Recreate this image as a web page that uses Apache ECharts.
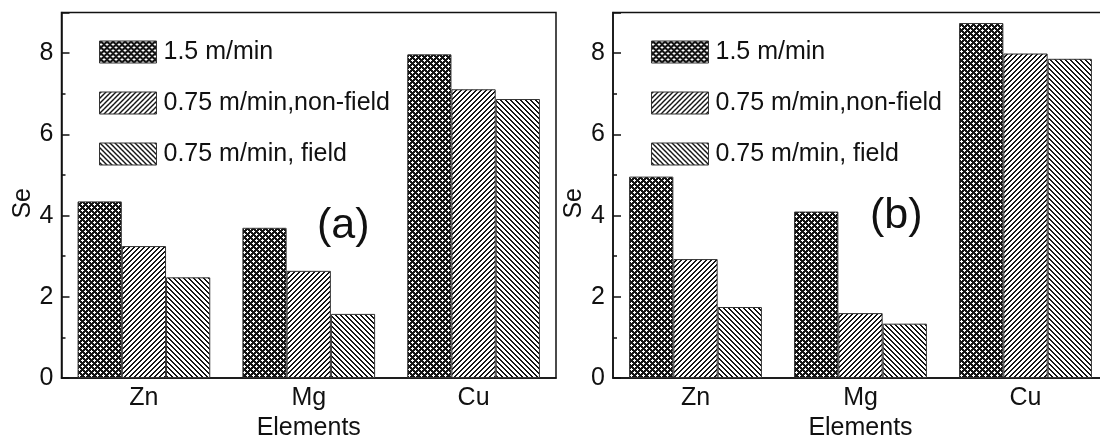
<!DOCTYPE html>
<html>
<head>
<meta charset="utf-8">
<script src="https://cdn.jsdelivr.net/npm/echarts@6.0.0/dist/echarts.min.js"></script>
<style>
  html, body { margin: 0; padding: 0; background: #fff; overflow: hidden; }
  /* a little wider than the window: panel (b) runs off the right edge */
  #main { width: 1112px; height: 446px; }
</style>
</head>
<body>
<div id="main"></div>
<script>
// categories and legend names
var elements = ['Zn', 'Mg', 'Cu'];
var speedNames = ['1.5 m/min', '0.75 m/min,non-field', '0.75 m/min, field'];

// panel (a)
var seA_fast = [4.35, 3.70, 7.97];
var seA_nonField = [3.25, 2.64, 7.11];
var seA_field = [2.48, 1.58, 6.87];

// panel (b)
var seB_fast = [4.96, 4.10, 8.74];
var seB_nonField = [2.93, 1.60, 7.99];
var seB_field = [1.75, 1.34, 7.86];

// y axis
var yMin = 0, yMax = 9, yStep = 2;

var FONT = '"Liberation Sans", Arial, sans-serif';
var INK = '#111';
var FS = 25;

// hatch tiles, drawn pixel by pixel so the lines stay crisp
// test(x, y) -> true for a black pixel
function makeTile(size, test) {
    var c = document.createElement('canvas');
    c.width = size; c.height = size;
    var ctx = c.getContext('2d');
    var img = ctx.createImageData(size, size);
    for (var y = 0; y < size; y++) {
        for (var x = 0; x < size; x++) {
            var v = test(x, y) ? 20 : 255;
            var p = (y * size + x) * 4;
            img.data[p] = v; img.data[p + 1] = v; img.data[p + 2] = v; img.data[p + 3] = 255;
        }
    }
    ctx.putImageData(img, 0, 0);
    return c;
}

var patCross = {
    image: makeTile(6, function (x, y) {
        return (x + y) % 6 < 3 || (x - y + 6) % 6 < 3;
    }),
    repeat: 'repeat'
};
var patUp = { image: makeTile(5, function (x, y) { return (x + y) % 5 < 2; }), repeat: 'repeat' };
var patDown = { image: makeTile(5, function (x, y) { return (x - y + 5) % 5 < 2; }), repeat: 'repeat' };
var patterns = [patCross, patUp, patDown];

var myChart = echarts.init(document.getElementById('main'));

var grids = [
    { left: 61.5, top: 12.5, width: 494.5, height: 367.5 },
    { left: 613, top: 12.5, width: 495, height: 367.5 }
];
grids.forEach(function (g) {
    g.show = true;
    g.borderColor = INK;
    g.borderWidth = 1.5;
    g.backgroundColor = 'transparent';
});

function xAxisFor(i) {
    return {
        type: 'category',
        gridIndex: i,
        data: elements,
        name: 'Elements',
        nameLocation: 'middle',
        nameGap: 35,
        nameTextStyle: { fontFamily: FONT, fontSize: FS, color: INK },
        axisLine: { lineStyle: { color: INK, width: 1.5 } },
        axisTick: { show: false },
        axisLabel: { margin: 8, fontFamily: FONT, fontSize: FS, color: INK },
        splitLine: { show: false }
    };
}

function yAxisFor(i) {
    return {
        type: 'value',
        gridIndex: i,
        min: yMin,
        max: yMax,
        interval: yStep,
        name: 'Se',
        nameLocation: 'middle',
        nameGap: 26,
        nameTextStyle: { fontFamily: FONT, fontSize: FS, color: INK, padding: [0, 16, 0, 0] },
        axisLine: { show: true, lineStyle: { color: INK, width: 1.5 } },
        axisTick: { show: true, inside: true, length: 8, lineStyle: { color: INK, width: 1.5 } },
        axisLabel: {
            margin: 8, fontFamily: FONT, fontSize: FS, color: INK,
            formatter: function (v) { return v % yStep === 0 ? String(v) : ''; }
        },
        splitLine: { show: false }
    };
}

// minor ticks on a silent overlay axis
function yMinorFor(i) {
    return {
        type: 'value',
        gridIndex: i,
        min: yMin,
        max: yMax,
        interval: 1,
        position: 'left',
        axisLine: { show: false },
        axisTick: { show: true, inside: true, length: 4, lineStyle: { color: INK, width: 1.5 } },
        axisLabel: { show: false },
        splitLine: { show: false }
    };
}

function barsFor(i, lists) {
    return lists.map(function (vals, k) {
        return {
            name: speedNames[k],
            type: 'bar',
            xAxisIndex: i,
            yAxisIndex: i * 2,
            data: vals,
            barGap: 0,
            barCategoryGap: '19.5%',
            itemStyle: { color: patterns[k], borderColor: '#333', borderWidth: 1 }
        };
    });
}

function legendFor(left) {
    return {
        left: left,
        top: 39.5,
        orient: 'vertical',
        padding: 0,
        itemWidth: 57,
        itemHeight: 22,
        itemGap: 26,
        icon: 'rect',
        selectedMode: false,
        data: speedNames,
        itemStyle: { borderColor: '#333', borderWidth: 1 },
        textStyle: { fontFamily: FONT, fontSize: FS, color: INK, lineHeight: 22, padding: [0, 0, 0, 2] }
    };
}

var option = {
    animation: false,
    backgroundColor: '#fff',
    grid: grids,
    xAxis: [xAxisFor(0), xAxisFor(1)],
    yAxis: [yAxisFor(0), yMinorFor(0), yAxisFor(1), yMinorFor(1)],
    legend: [legendFor(99), legendFor(651)],
    series: barsFor(0, [seA_fast, seA_nonField, seA_field])
        .concat(barsFor(1, [seB_fast, seB_nonField, seB_field])),
    graphic: [
        { type: 'text', left: 317, top: 205, style: { text: '(a)', font: '43px ' + FONT, fill: INK } },
        { type: 'text', left: 870, top: 195, style: { text: '(b)', font: '43px ' + FONT, fill: INK } }
    ]
};

myChart.setOption(option);
</script>
</body>
</html>
